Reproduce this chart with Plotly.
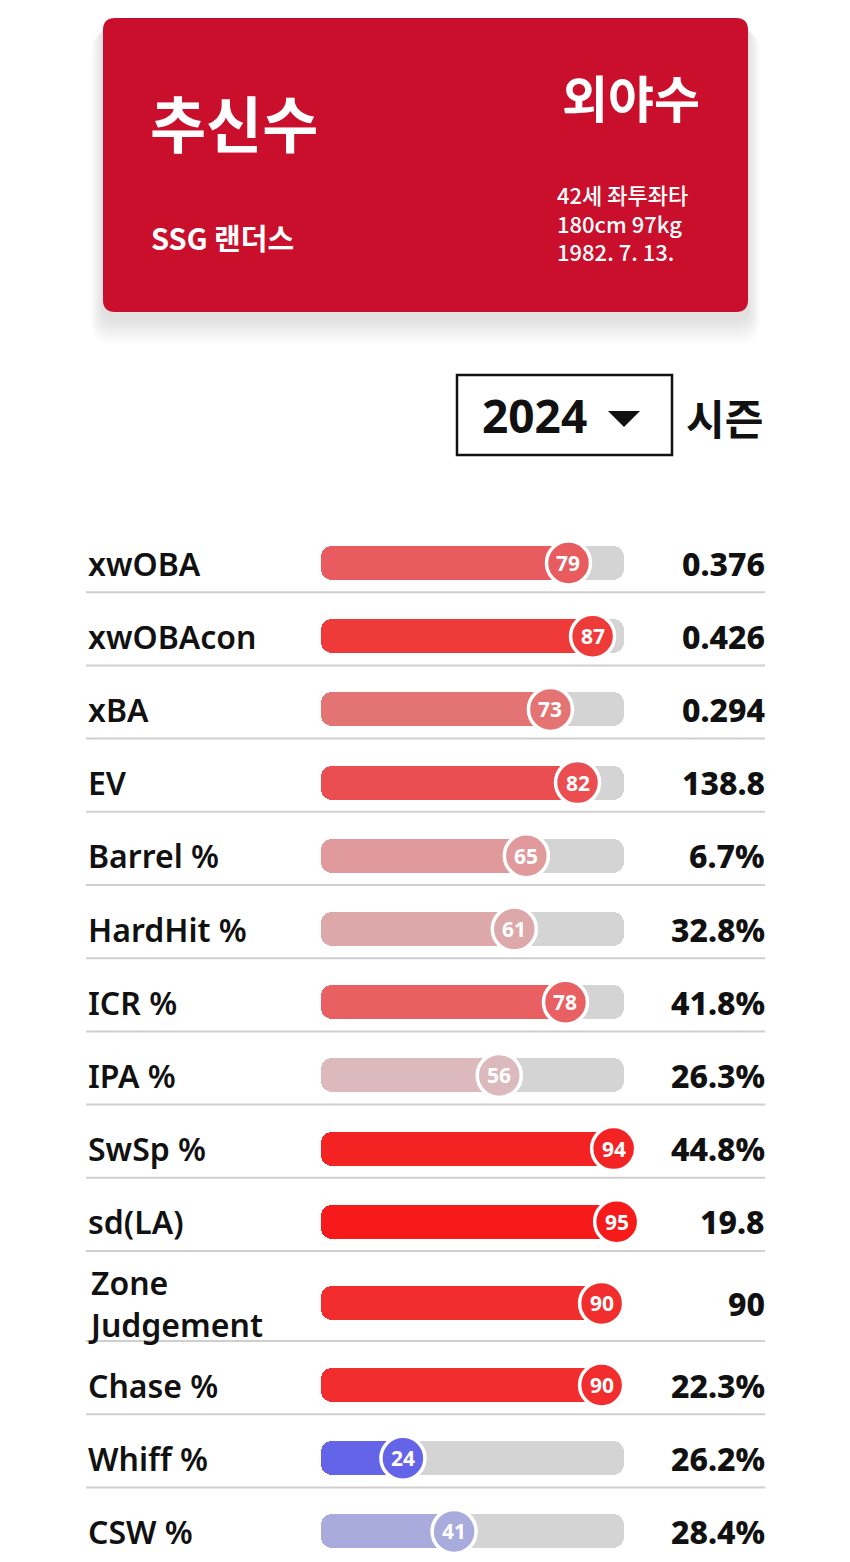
import plotly.graph_objects as go

# ---------------- data ----------------
PLAYER_NAME = "추신수"
TEAM = "SSG 랜더스"
POSITION = "외야수"
INFO_LINES = ["42세 좌투좌타", "180cm 97kg", "1982. 7. 13."]
SEASON = "2024"
SEASON_LABEL = "시즌"

METRICS = ["xwOBA", "xwOBAcon", "xBA", "EV", "Barrel %", "HardHit %", "ICR %",
           "IPA %", "SwSp %", "sd(LA)", "Zone<br>Judgement", "Chase %", "Whiff %", "CSW %"]
PERCENTILES = [79, 87, 73, 82, 65, 61, 78, 56, 94, 95, 90, 90, 24, 41]
VALUES = ["0.376", "0.426", "0.294", "138.8", "6.7%", "32.8%", "41.8%",
          "26.3%", "44.8%", "19.8", "90", "22.3%", "26.2%", "28.4%"]
COLORS = ["#E85B5E", "#EF3A3A", "#E47474", "#EB4E50", "#E09A9C", "#DDA8AA", "#E86062",
          "#DBB9BC", "#F42323", "#F61A1A", "#F12D2D", "#F12D2D", "#6464E8", "#A9ABDC"]

# ---------------- layout constants (pixels) ----------------
W, H = 850, 1562
ROW_TOP0 = 519
ROW_H = [73.2] * 10 + [90] + [73.2] * 3
LABEL_X, VALUE_X = 86, 765
# percentile axis: pixel = 330.7 + 3.01 * p
PX0, PX_PER = 330.7, 3.01
TRACK_LO = (321 - PX0) / PX_PER
TRACK_HI = (624 - PX0) / PX_PER

tops, centers, bottoms = [], [], []
t = ROW_TOP0
for h in ROW_H:
    tops.append(t)
    centers.append(t + 44 + (h - 73.2) / 2)
    bottoms.append(t + h)
    t += h


def rrect(x0, y0, x1, y1, r):
    return (f"M{x0+r},{y0} L{x1-r},{y0} Q{x1},{y0} {x1},{y0+r} L{x1},{y1-r} "
            f"Q{x1},{y1} {x1-r},{y1} L{x0+r},{y1} Q{x0},{y1} {x0},{y1-r} "
            f"L{x0},{y0+r} Q{x0},{y0} {x0+r},{y0} Z")


fig = go.Figure()

# track bars
fig.add_trace(go.Bar(
    y=centers, x=[TRACK_HI - TRACK_LO] * len(METRICS), base=TRACK_LO,
    orientation="h", width=34, marker=dict(color="#D4D4D4", cornerradius=11, line=dict(width=0)),
    xaxis="x2", yaxis="y", hoverinfo="skip", showlegend=False))
# fill bars
fig.add_trace(go.Bar(
    y=centers, x=[p - TRACK_LO for p in PERCENTILES], base=TRACK_LO,
    orientation="h", width=34, marker=dict(color=COLORS, cornerradius=11, line=dict(width=0)),
    xaxis="x2", yaxis="y", hoverinfo="skip", showlegend=False))
# knobs
fig.add_trace(go.Scatter(
    y=centers, x=PERCENTILES, mode="markers",
    marker=dict(size=44, color=COLORS, line=dict(color="white", width=3.5)),
    xaxis="x2", yaxis="y", hoverinfo="skip", showlegend=False))

shapes = []
# card shadow
for i in range(1, 11):
    shapes.append(dict(type="path", xref="x", yref="y",
                       path=rrect(103 - i * 1.2, 18 + 6 + i * 0.6, 748 + i * 1.2, 312 + 6 + i * 2.6, 12 + i),
                       fillcolor="rgba(0,0,0,0.010)", line=dict(width=0), layer="below"))
# card
shapes.append(dict(type="path", xref="x", yref="y", path=rrect(103, 18, 748, 312, 12),
                   fillcolor="#C90F2C", line=dict(width=0), layer="below"))
# season box
shapes.append(dict(type="rect", xref="x", yref="y", x0=457, y0=375, x1=672, y1=455,
                   line=dict(color="#111111", width=2.5), fillcolor="white", layer="below"))
shapes.append(dict(type="path", xref="x", yref="y", path="M608,411 L640,411 L624,427 Z",
                   fillcolor="#111111", line=dict(width=0)))
# separators
for b in bottoms[:-1]:
    shapes.append(dict(type="line", xref="x", yref="y", x0=LABEL_X, x1=VALUE_X, y0=b, y1=b,
                       line=dict(color="#CFCFCF", width=2), layer="below"))

ann = []
KR = "Noto Sans CJK KR"
ann.append(dict(x=148, y=121, text=PLAYER_NAME, xanchor="left", yanchor="middle",
                font=dict(family=KR, size=61, color="white", weight=700)))
ann.append(dict(x=149, y=237, text=TEAM, xanchor="left", yanchor="middle",
                font=dict(family=KR, size=29, color="white", weight=700)))
ann.append(dict(x=702, y=96, text=POSITION, xanchor="right", yanchor="middle",
                font=dict(family=KR, size=50, color="white", weight=700)))
ann.append(dict(x=555, y=222.5, text="<br>".join(INFO_LINES), xanchor="left", yanchor="middle",
                align="left", font=dict(family=KR, size=22, color="white", weight=500)))
ann.append(dict(x=480, y=415, text=SEASON, xanchor="left", yanchor="middle",
                font=dict(family="Noto Sans", size=46, color="#111111", weight=700)))
ann.append(dict(x=684, y=416, text=SEASON_LABEL, xanchor="left", yanchor="middle",
                font=dict(family=KR, size=42, color="#111111", weight=700)))

for m, v, c in zip(METRICS, VALUES, centers):
    ann.append(dict(x=LABEL_X, y=c, text=m, xanchor="left", yanchor="middle", align="left",
                    font=dict(family="Noto Sans", size=32, color="#111111", weight=600)))
    ann.append(dict(x=VALUE_X + 2, y=c, text=v, xanchor="right", yanchor="middle",
                    font=dict(family="Noto Sans", size=32, color="#111111", weight=800)))

for a in ann:
    a.update(xref="x", yref="y", showarrow=False)

# knob numbers, placed on the percentile axis
for p, c in zip(PERCENTILES, centers):
    ann.append(dict(x=p, y=c, xref="x2", yref="y", text=str(p), showarrow=False,
                    xanchor="center", yanchor="middle",
                    font=dict(family="Noto Sans", size=21, color="white", weight=700)))

fig.update_layout(
    width=W, height=H, margin=dict(l=0, r=0, t=0, b=0),
    paper_bgcolor="white", plot_bgcolor="white",
    barmode="overlay", bargap=0,
    xaxis=dict(range=[0, W], visible=False, fixedrange=True),
    xaxis2=dict(range=[-PX0 / PX_PER, (W - PX0) / PX_PER], overlaying="x", visible=False,
                fixedrange=True),
    yaxis=dict(range=[H, 0], visible=False, fixedrange=True),
    shapes=shapes, annotations=ann, showlegend=False,
)

fig.write_html("out.html")
